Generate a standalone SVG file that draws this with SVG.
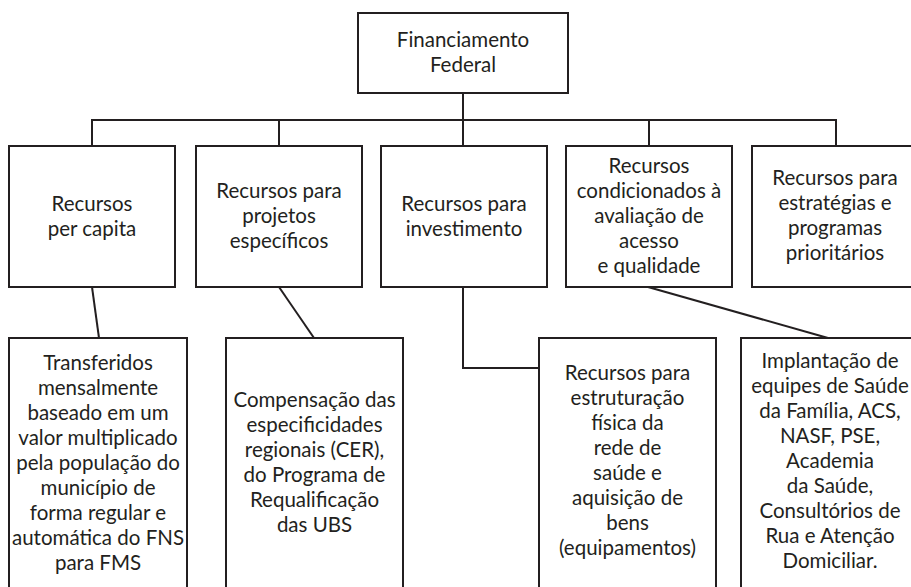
<svg xmlns="http://www.w3.org/2000/svg" width="911" height="587" viewBox="0 0 911 587">
<style>
.box{fill:#fff;stroke:#231f20;stroke-width:2}
.ln{fill:none;stroke:#231f20;stroke-width:2}
text{font-family:Lato,"Liberation Sans",sans-serif;font-size:20.5px;fill:#231f20;text-anchor:middle}
</style>
<rect width="911" height="587" fill="#fff"/>
<g id="connectors">
<path class="ln" d="M463 93V146M92 146V120H836V146M279 120V146M649 120V146"/>
<path class="ln" d="M92 287L99 338"/>
<path class="ln" d="M279 287L314 338"/>
<path class="ln" d="M463 287V368H539"/>
<path class="ln" d="M648 287L828 338"/>
</g>
<g id="n0"><rect class="box" x="358" y="13" width="210" height="80"/>
<text x="463"><tspan x="463" y="47">Financiamento</tspan><tspan x="463" y="72">Federal</tspan></text></g>
<g id="n1"><rect class="box" x="9" y="146" width="166" height="141"/>
<text><tspan x="92" y="211">Recursos</tspan><tspan x="92" y="236">per capita</tspan></text></g>
<g id="n2"><rect class="box" x="196" y="146" width="166" height="141"/>
<text><tspan x="279" y="198">Recursos para</tspan><tspan x="279" y="223">projetos</tspan><tspan x="279" y="248">específicos</tspan></text></g>
<g id="n3"><rect class="box" x="381" y="146" width="166" height="141"/>
<text><tspan x="464" y="211">Recursos para</tspan><tspan x="464" y="236">investimento</tspan></text></g>
<g id="n4"><rect class="box" x="566" y="146" width="166" height="141"/>
<text><tspan x="649" y="173">Recursos</tspan><tspan x="649" y="198">condicionados à</tspan><tspan x="649" y="223">avaliação de</tspan><tspan x="649" y="248">acesso</tspan><tspan x="649" y="273">e qualidade</tspan></text></g>
<g id="n5"><rect class="box" x="752" y="146" width="166" height="141"/>
<text><tspan x="835" y="185">Recursos para</tspan><tspan x="835" y="210">estratégias e</tspan><tspan x="835" y="235">programas</tspan><tspan x="835" y="260">prioritários</tspan></text></g>
<g id="b1"><rect class="box" x="9" y="338" width="178" height="270"/>
<text><tspan x="98" y="370">Transferidos</tspan><tspan x="98" y="395">mensalmente</tspan><tspan x="98" y="420">baseado em um</tspan><tspan x="98" y="445">valor multiplicado</tspan><tspan x="98" y="470">pela população do</tspan><tspan x="98" y="495">município de</tspan><tspan x="98" y="520">forma regular e</tspan><tspan x="98" y="545">automática do FNS</tspan><tspan x="98" y="570">para FMS</tspan></text></g>
<g id="b2"><rect class="box" x="226" y="338" width="177" height="270"/>
<text><tspan x="314.5" y="407">Compensação das</tspan><tspan x="314.5" y="432">especificidades</tspan><tspan x="314.5" y="457">regionais (CER),</tspan><tspan x="314.5" y="482">do Programa de</tspan><tspan x="314.5" y="507">Requalificação</tspan><tspan x="314.5" y="532">das UBS</tspan></text></g>
<g id="b3"><rect class="box" x="539" y="338" width="177" height="270"/>
<text><tspan x="627.5" y="380">Recursos para</tspan><tspan x="627.5" y="405">estruturação</tspan><tspan x="627.5" y="430">física da</tspan><tspan x="627.5" y="455">rede de</tspan><tspan x="627.5" y="480">saúde e</tspan><tspan x="627.5" y="505">aquisição de</tspan><tspan x="627.5" y="530">bens</tspan><tspan x="627.5" y="555">(equipamentos)</tspan></text></g>
<g id="b4"><rect class="box" x="741" y="338" width="177" height="270"/>
<text><tspan x="830" y="368">Implantação de</tspan><tspan x="830" y="393">equipes de Saúde</tspan><tspan x="830" y="418">da Família, ACS,</tspan><tspan x="830" y="443">NASF, PSE,</tspan><tspan x="830" y="468">Academia</tspan><tspan x="830" y="493">da Saúde,</tspan><tspan x="830" y="518">Consultórios de</tspan><tspan x="830" y="543">Rua e Atenção</tspan><tspan x="830" y="568">Domiciliar.</tspan></text></g>
</svg>
